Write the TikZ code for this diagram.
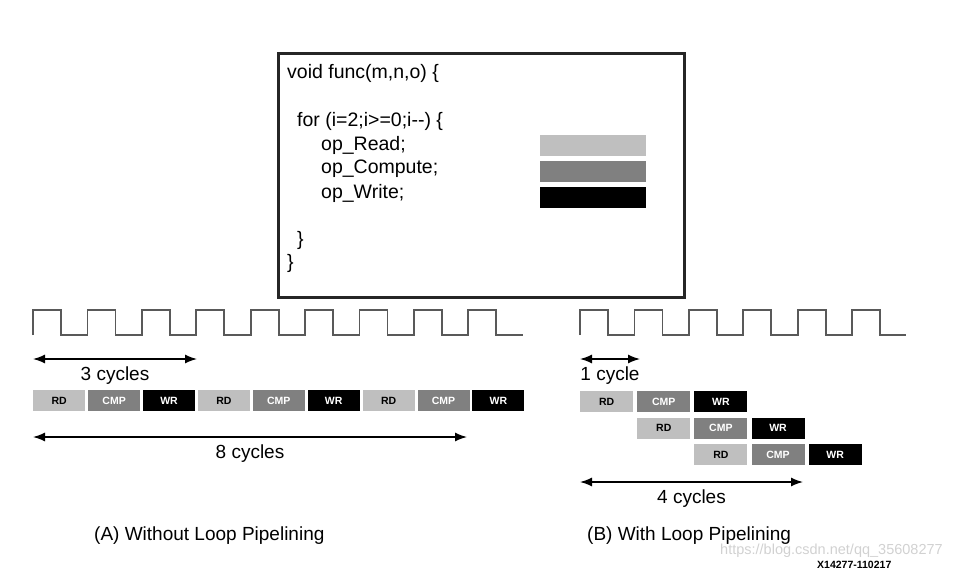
\documentclass[tikz,border=0pt]{standalone}
\usepackage{fontspec}
\setmainfont{Liberation Sans}
\usetikzlibrary{positioning,arrows.meta}
\usepackage{xcolor}

\tikzset{
  blk/.style={minimum width=52pt, minimum height=21pt, inner sep=0pt,
    font=\fontsize{10.5}{10.5}\selectfont\bfseries},
  rd/.style={blk, fill=black!25, text=black},
  cmp/.style={blk, fill=black!50, text=white},
  wr/.style={blk, fill=black, text=white},
  span/.style={{Latex[length=12pt,width=9pt]}-{Latex[length=12pt,width=9pt]}, line width=1.4pt},
  clk/.style={line width=1.8pt, draw=black!65},
  lbl/.style={font=\fontsize{19}{21}\selectfont, inner sep=0pt},
  codeln/.style={anchor=west, inner sep=0pt, font=\fontsize{19.5}{21}\selectfont},
  bar/.style={minimum width=106pt, minimum height=21pt, inner sep=0pt, anchor=north west},
}

\begin{document}
\begin{tikzpicture}[x=1pt,y=-1pt]
\useasboundingbox (0,0) rectangle (972,574);

% the loop body
\node[draw=black!85,line width=2.5pt,minimum width=406pt,minimum height=244pt,anchor=north west] (code) at (277,52) {};
\node[codeln] (l1) at (287,73) {void func(m,n,o) \{};
\node[codeln] (l2) at (297,121) {for (i=2;i>=0;i-{}-) \{};
\node[codeln] (l3) at (321,145) {op\_Read;};
\node[codeln] (l4) at (321,169) {op\_Compute;};
\node[codeln] (l5) at (321,193) {op\_Write;};
\node[codeln] (l6) at (297,240) {\}};
\node[codeln] (l7) at (287,263) {\}};
\node[bar,fill=black!25] (barrd) at (540,135) {};
\node[bar,fill=black!50] (barcmp) at (540,161) {};
\node[bar,fill=black] (barwr) at (540,187) {};

% (A) without pipelining
\draw[clk] (33,335) \foreach \k in {0,...,8} { -- ++(0,-25) -- ++(28,0) -- ++(0,25) -- ++(26.4,0) };
\node[rd,anchor=north west] (a1) at (33,390) {RD};
\node[cmp,right=2.5pt of a1] (a2) {CMP};
\node[wr,right=2.5pt of a2] (a3) {WR};
\node[rd,right=2.5pt of a3] (a4) {RD};
\node[cmp,right=2.5pt of a4] (a5) {CMP};
\node[wr,right=2.5pt of a5] (a6) {WR};
\node[rd,right=2.5pt of a6] (a7) {RD};
\node[cmp,right=2.5pt of a7] (a8) {CMP};
\node[wr,right=2.5pt of a8] (a9) {WR};

\coordinate (s3a) at (33,359);
\coordinate (s3b) at (197,359);
\draw[span] (s3a) -- (s3b) node[lbl,midway,below=7pt] (t3) {3 cycles};
\coordinate (s8a) at (33,437);
\coordinate (s8b) at (467,437);
\draw[span] (s8a) -- (s8b) node[lbl,midway,below=7pt] (t8) {8 cycles};

\node[lbl,anchor=west] (capa) at (94,536) {(A) Without Loop Pipelining};

% (B) with pipelining
\draw[clk] (580,335) \foreach \k in {0,...,5} { -- ++(0,-25) -- ++(28,0) -- ++(0,25) -- ++(26.4,0) };
\begin{scope}[blk/.append style={minimum width=53pt}]
\node[rd,anchor=north west] (b1) at (580,391) {RD};
\node[cmp,right=3.7pt of b1] (b2) {CMP};
\node[wr,right=3.7pt of b2] (b3) {WR};
\node[rd,below=5pt of b2] (b4) {RD};
\node[cmp,right=3.7pt of b4] (b5) {CMP};
\node[wr,right=3.7pt of b5] (b6) {WR};
\node[rd,below=5pt of b5] (b7) {RD};
\node[cmp,right=3.7pt of b7] (b8) {CMP};
\node[wr,right=3.7pt of b8] (b9) {WR};
\end{scope}

\coordinate (s1a) at (580,359);
\coordinate (s1b) at (640,359);
\draw[span] (s1a) -- (s1b) node[lbl,midway,below=7pt] (t1) {1 cycle};
\coordinate (s4a) at (580,482);
\coordinate (s4b) at (803,482);
\draw[span] (s4a) -- (s4b) node[lbl,midway,below=7pt] (t4) {4 cycles};

\node[lbl,anchor=west] (capb) at (587,536) {(B) With Loop Pipelining};

\node[anchor=west,inner sep=0pt,text=black!18,font=\fontsize{14.5}{16}\selectfont] (wm) at (720,551) {https://blog.csdn.net/qq\_35608277};
\node[anchor=west,inner sep=0pt,font=\fontsize{10.5}{12}\selectfont\bfseries] (fig) at (817,565) {X14277-110217};
\end{tikzpicture}
\end{document}
